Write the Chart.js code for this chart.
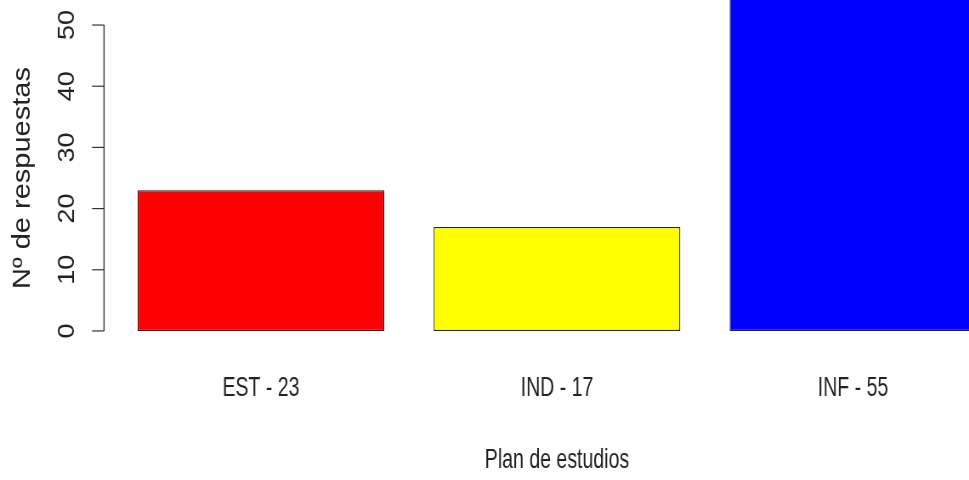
<!DOCTYPE html>
<html>
<head>
<meta charset="utf-8">
<script src="https://cdn.jsdelivr.net/npm/chart.js@4.4.1/dist/chart.umd.min.js"></script>
<style>
    html, body { margin: 0; padding: 0; background: #fff; overflow: hidden; width: 969px; height: 480px; }
    #wrap { position: relative; width: 969px; height: 480px; overflow: hidden; }
    /* the original picture is squeezed horizontally, so squeeze the canvas too */
    #myChart { position: absolute; left: 0; top: 0; transform: scaleX(0.85); transform-origin: 0 0; }
</style>
</head>
<body>
<div id="wrap"><canvas id="myChart" width="1250" height="480"></canvas></div>
<script>
const categories = ['EST - 23', 'IND - 17', 'INF - 55'];
const responses = [23, 17, 55];
const yTicks = [0, 10, 20, 30, 40, 50];
const yTitle = 'Nº de respuestas';
const xTitle = 'Plan de estudios';
const barColors = ['#ff0000', '#ffff00', '#0000ff'];

const plainFont = '"Liberation Sans", Arial, sans-serif';

// draws text squeezed like Arial Narrow
function narrowText(ctx, text, x, y) {
    ctx.save();
    ctx.translate(x, y);
    ctx.scale(0.82, 1);
    ctx.fillText(text, 0, 0);
    ctx.restore();
}

// R style axes: y line only runs from first to last tick, labels are rotated
const rAxis = {
    id: 'rAxis',
    afterDraw(chart) {
        const ctx = chart.ctx;
        const y = chart.scales.y;
        const x = chart.scales.x;
        const area = chart.chartArea;
        const axisX = 122.4;
        const tickLen = 14.1;

        ctx.save();
        ctx.strokeStyle = '#333';
        ctx.lineWidth = 1.4;
        ctx.beginPath();
        ctx.moveTo(axisX, y.getPixelForValue(yTicks[0]));
        ctx.lineTo(axisX, y.getPixelForValue(yTicks[yTicks.length - 1]));
        ctx.stroke();

        ctx.lineWidth = 1.2;
        ctx.fillStyle = '#222';
        ctx.font = '27px ' + plainFont;
        ctx.textAlign = 'center';
        ctx.textBaseline = 'middle';
        yTicks.forEach(v => {
            const py = y.getPixelForValue(v);
            ctx.beginPath();
            ctx.moveTo(axisX - tickLen, py);
            ctx.lineTo(axisX, py);
            ctx.stroke();

            ctx.save();
            ctx.translate(80, py);
            ctx.rotate(-Math.PI / 2);
            ctx.fillText(String(v), 0, 0);
            ctx.restore();
        });

        ctx.save();
        ctx.font = '29px ' + plainFont;
        ctx.translate(27, (area.top + area.bottom) / 2);
        ctx.rotate(-Math.PI / 2);
        ctx.fillText(yTitle, 0, 0);
        ctx.restore();

        // category names under the bars and the x title
        ctx.font = '28px ' + plainFont;
        ctx.textBaseline = 'alphabetic';
        categories.forEach((c, i) => {
            narrowText(ctx, c, x.getPixelForValue(i), 396);
        });
        narrowText(ctx, xTitle, (area.left + area.right) / 2, 468);
        ctx.restore();
    }
};

const myChart = new Chart(document.getElementById('myChart'), {
    type: 'bar',
    data: {
        labels: categories,
        datasets: [
            {
                data: responses,
                backgroundColor: barColors,
                borderColor: '#222',
                borderWidth: 1.2,
                borderSkipped: false,
                barPercentage: 1,
                categoryPercentage: 1 / 1.2,
                clip: false
            }
        ]
    },
    options: {
        responsive: false,
        animation: false,
        layout: {
            padding: { left: 132.9, right: 72.4, top: 12.8, bottom: 136.8 }
        },
        plugins: {
            legend: { display: false },
            tooltip: { enabled: false }
        },
        scales: {
            y: {
                display: false,
                min: -2,
                max: 52
            },
            x: {
                display: false
            }
        }
    },
    plugins: [rAxis]
});
</script>
</body>
</html>
